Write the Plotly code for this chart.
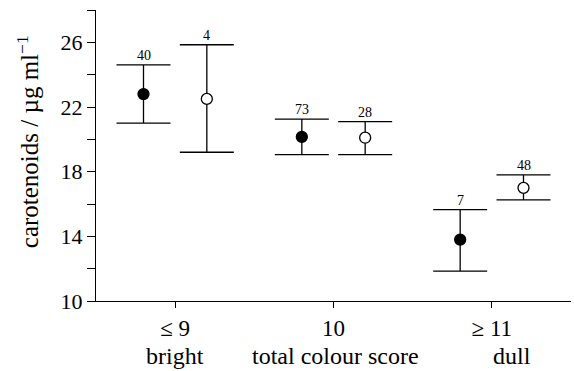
import plotly.graph_objects as go

categories = ["≤ 9", "10", "≥ 11"]
cat_pos = [1, 2, 3]

mean_filled = [22.8, 20.15, 13.8]
upper_filled = [24.6, 21.25, 15.65]
lower_filled = [21.0, 19.05, 11.85]
n_filled = [40, 73, 7]

mean_open = [22.5, 20.1, 17.0]
upper_open = [25.85, 21.1, 17.8]
lower_open = [19.2, 19.05, 16.25]
n_open = [4, 28, 48]

y_major = [10, 14, 18, 22, 26]
bottom_labels = ["bright", "total colour score", "dull"]

OFFSET = 0.2
FONT = "Liberation Serif, Times New Roman, serif"

fig = go.Figure()


def add_series(means, ups, lows, ns, dx, fill):
    xs = [p + dx for p in cat_pos]
    fig.add_trace(go.Scatter(
        x=xs, y=means, mode="markers",
        marker=dict(size=11, color=fill, line=dict(color="black", width=1.3)),
        error_y=dict(type="data", symmetric=False,
                     array=[u - m for u, m in zip(ups, means)],
                     arrayminus=[m - l for m, l in zip(means, lows)],
                     width=27, thickness=1.3, color="black"),
        showlegend=False, cliponaxis=False,
    ))
    for x, u, n in zip(xs, ups, ns):
        fig.add_annotation(x=x, y=u, text=str(n), showarrow=False,
                           yanchor="bottom", yshift=0,
                           font=dict(family=FONT, size=14, color="black"))


add_series(mean_filled, upper_filled, lower_filled, n_filled, -OFFSET, "black")
add_series(mean_open, upper_open, lower_open, n_open, OFFSET, "white")

# descriptive labels under the axis (paper x positions)
for txt, xp in zip(bottom_labels, [0.1, 0.504, 0.92]):
    fig.add_annotation(x=xp, xref="paper", y=-0.19, yref="paper",
                       text=txt, showarrow=False, yanchor="middle",
                       font=dict(family=FONT, size=24, color="black"))

fig.add_annotation(x=-0.143, xref="paper", y=0.546, yref="paper",
                   text="carotenoids / µg ml<sup>−1</sup>", textangle=-90,
                   showarrow=False, xanchor="center", yanchor="middle",
                   font=dict(family=FONT, size=25, color="black"))

fig.update_layout(
    width=574, height=371,
    margin=dict(l=96, r=3, t=10, b=70),
    plot_bgcolor="white", paper_bgcolor="white",
    font=dict(family=FONT, color="black"),
    xaxis=dict(range=[0.5, 3.5], tickvals=cat_pos, ticktext=categories,
               showline=True, linecolor="black", linewidth=1.3,
               ticks="outside", ticklen=6, tickwidth=1.3, tickcolor="black",
               showgrid=False, zeroline=False,
               tickfont=dict(family=FONT, size=23, color="black")),
    yaxis=dict(range=[10, 28], tickmode="array", tickvals=y_major,
               showline=True, linecolor="black", linewidth=1.3,
               ticks="outside", ticklen=8, tickwidth=1.3, tickcolor="black",
               minor=dict(tickmode="linear", tick0=10, dtick=2, ticks="outside",
                          ticklen=8, tickwidth=1.3, tickcolor="black",
                          showgrid=False),
               showgrid=False, zeroline=False,
               tickfont=dict(family=FONT, size=22, color="black")),
)

fig.write_html("out.html")
